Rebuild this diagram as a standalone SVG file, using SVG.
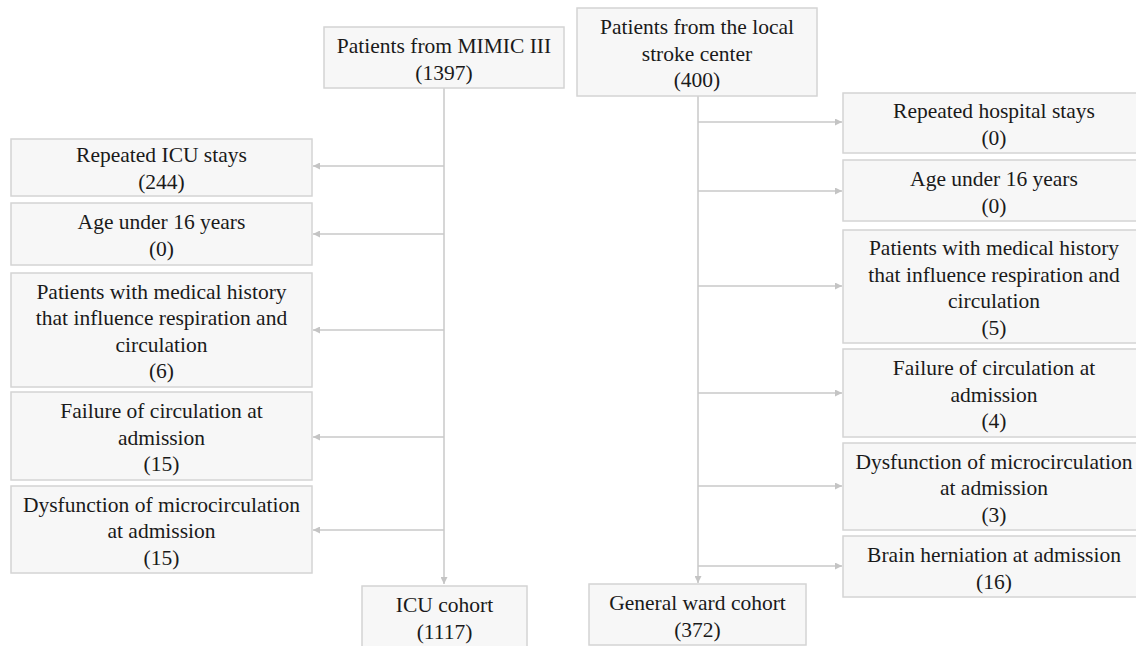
<svg xmlns="http://www.w3.org/2000/svg" width="1136" height="646" viewBox="0 0 1136 646">
<style>
.box{fill:#f7f7f7;stroke:#d4d4d4;stroke-width:1.5}
.t{font-size:21.5px;fill:#1a1a1a;text-anchor:middle}
.ln{stroke:#c8c8c8;stroke-width:1.5;fill:none}
</style>
<defs>
<marker id="ah" viewBox="0 0 10 10" refX="10" refY="5" markerWidth="9" markerHeight="7" markerUnits="userSpaceOnUse" orient="auto">
<path d="M0,0 L10,5 L0,10 z" fill="#c4c4c4"/>
</marker>
</defs>
<rect width="1136" height="646" fill="#ffffff"/>
<g id="connectors">
<line class="ln" x1="444" y1="88" x2="444" y2="584" marker-end="url(#ah)"/>
<line class="ln" x1="444" y1="166" x2="313" y2="166" marker-end="url(#ah)"/>
<line class="ln" x1="444" y1="234" x2="313" y2="234" marker-end="url(#ah)"/>
<line class="ln" x1="444" y1="330" x2="313" y2="330" marker-end="url(#ah)"/>
<line class="ln" x1="444" y1="437" x2="313" y2="437" marker-end="url(#ah)"/>
<line class="ln" x1="444" y1="530" x2="313" y2="530" marker-end="url(#ah)"/>
<line class="ln" x1="698" y1="96" x2="698" y2="583" marker-end="url(#ah)"/>
<line class="ln" x1="698" y1="122" x2="842" y2="122" marker-end="url(#ah)"/>
<line class="ln" x1="698" y1="191" x2="842" y2="191" marker-end="url(#ah)"/>
<line class="ln" x1="698" y1="286" x2="842" y2="286" marker-end="url(#ah)"/>
<line class="ln" x1="698" y1="393" x2="842" y2="393" marker-end="url(#ah)"/>
<line class="ln" x1="698" y1="486" x2="842" y2="486" marker-end="url(#ah)"/>
<line class="ln" x1="698" y1="566" x2="842" y2="566" marker-end="url(#ah)"/>
</g>
<g font-family="Liberation Serif, DejaVu Serif, serif">
<g id="mimic">
<rect class="box" x="324" y="27" width="240" height="61"/>
<text class="t" x="444" y="53">Patients from MIMIC III</text>
<text class="t" x="444" y="79.5">(1397)</text>
</g>
<g id="local">
<rect class="box" x="577" y="8" width="240" height="88"/>
<text class="t" x="697" y="34">Patients from the local</text>
<text class="t" x="697" y="60.5">stroke center</text>
<text class="t" x="697" y="87">(400)</text>
</g>
<g id="l_repeated">
<rect class="box" x="11" y="139" width="301" height="57"/>
<text class="t" x="161.5" y="162">Repeated ICU stays</text>
<text class="t" x="161.5" y="188.5">(244)</text>
</g>
<g id="l_age">
<rect class="box" x="11" y="203" width="301" height="62"/>
<text class="t" x="161.5" y="229">Age under 16 years</text>
<text class="t" x="161.5" y="255.5">(0)</text>
</g>
<g id="l_history">
<rect class="box" x="11" y="273" width="301" height="114"/>
<text class="t" x="161.5" y="298.5">Patients with medical history</text>
<text class="t" x="161.5" y="325">that influence respiration and</text>
<text class="t" x="161.5" y="351.5">circulation</text>
<text class="t" x="161.5" y="378">(6)</text>
</g>
<g id="l_failure">
<rect class="box" x="11" y="392" width="301" height="88"/>
<text class="t" x="161.5" y="418">Failure of circulation at</text>
<text class="t" x="161.5" y="444.5">admission</text>
<text class="t" x="161.5" y="471">(15)</text>
</g>
<g id="l_dysfunction">
<rect class="box" x="11" y="486" width="301" height="87"/>
<text class="t" x="161.5" y="511.5">Dysfunction of microcirculation</text>
<text class="t" x="161.5" y="538">at admission</text>
<text class="t" x="161.5" y="564.5">(15)</text>
</g>
<g id="icu">
<rect class="box" x="362" y="586" width="165" height="62"/>
<text class="t" x="444.5" y="612">ICU cohort</text>
<text class="t" x="444.5" y="638.5">(1117)</text>
</g>
<g id="general">
<rect class="box" x="589" y="584" width="217" height="61"/>
<text class="t" x="697.5" y="610">General ward cohort</text>
<text class="t" x="697.5" y="636.5">(372)</text>
</g>
<g id="r_repeated">
<rect class="box" x="843" y="93" width="302" height="60"/>
<text class="t" x="994" y="118">Repeated hospital stays</text>
<text class="t" x="994" y="144.5">(0)</text>
</g>
<g id="r_age">
<rect class="box" x="843" y="160" width="302" height="61"/>
<text class="t" x="994" y="186">Age under 16 years</text>
<text class="t" x="994" y="212.5">(0)</text>
</g>
<g id="r_history">
<rect class="box" x="843" y="230" width="302" height="113"/>
<text class="t" x="994" y="255">Patients with medical history</text>
<text class="t" x="994" y="281.5">that influence respiration and</text>
<text class="t" x="994" y="308">circulation</text>
<text class="t" x="994" y="334.5">(5)</text>
</g>
<g id="r_failure">
<rect class="box" x="843" y="349" width="302" height="88"/>
<text class="t" x="994" y="375">Failure of circulation at</text>
<text class="t" x="994" y="401.5">admission</text>
<text class="t" x="994" y="428">(4)</text>
</g>
<g id="r_dysfunction">
<rect class="box" x="843" y="443" width="302" height="87"/>
<text class="t" x="994" y="468.5">Dysfunction of microcirculation</text>
<text class="t" x="994" y="495">at admission</text>
<text class="t" x="994" y="521.5">(3)</text>
</g>
<g id="r_herniation">
<rect class="box" x="843" y="536" width="302" height="61"/>
<text class="t" x="994" y="562">Brain herniation at admission</text>
<text class="t" x="994" y="588.5">(16)</text>
</g>
</g>
</svg>
